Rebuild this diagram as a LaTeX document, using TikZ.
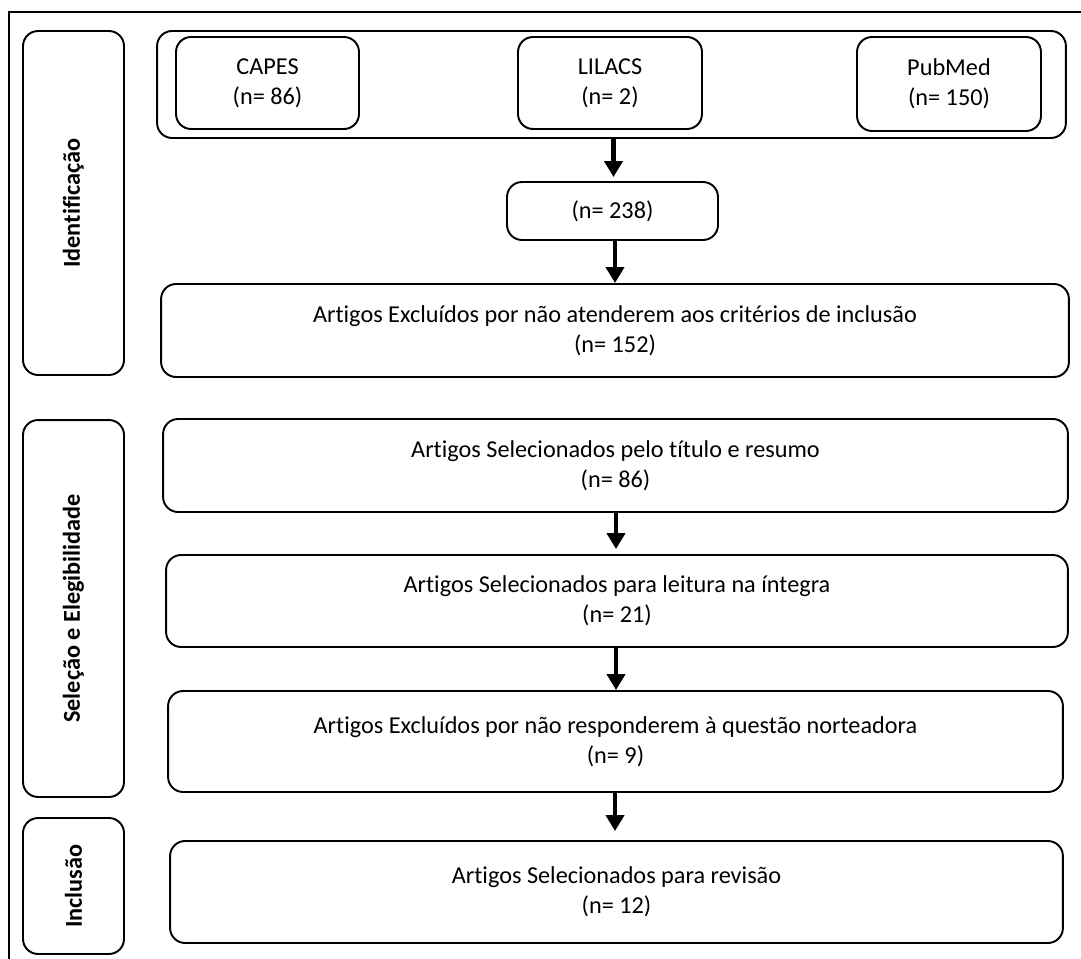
\documentclass[tikz,border=0pt]{standalone}
\usepackage{fontspec}
\setmainfont{Carlito}[Ligatures=NoCommon]
\usetikzlibrary{arrows.meta}

\tikzset{
  flowbox/.style={draw, line width=1.1pt, rounded corners=0.3cm, align=center, inner sep=0pt,
    font=\fontsize{13.8}{17}\selectfont},
  phasebox/.style={draw, line width=1.1pt, rounded corners=0.3cm, inner sep=0pt, rotate=90,
    minimum height=2.02cm, font=\bfseries\fontsize{13.8}{17}\selectfont},
  flowarrow/.style={line width=0.09cm, -{Triangle[width=0.36cm, length=0.32cm]}}
}

\begin{document}
\begin{tikzpicture}[x=0.02cm, y=-0.02cm]
\useasboundingbox (0,0) rectangle (1081,959);

% frame
\draw[line width=0.8pt] (9,962) -- (9,12) -- (1084,12);

% phases
\node[phasebox, minimum width=6.88cm] (ident) at (73.5,203) {Identificação};
\node[phasebox, minimum width=7.54cm] (selec) at (73.5,608.5) {Seleção e Elegibilidade};
\node[phasebox, minimum width=2.72cm] (incl) at (73.5,886) {Inclusão};

% databases
\node[flowbox, minimum width=18.18cm, minimum height=2.14cm] (grp) at (611.5,84.5) {};
\node[flowbox, minimum width=3.66cm, minimum height=1.84cm] (capes) at (267.5,83) {CAPES\\(n= 86)};
\node[flowbox, minimum width=3.68cm, minimum height=1.84cm] (lilacs) at (610,83) {LILACS\\(n= 2)};
\node[flowbox, minimum width=3.68cm, minimum height=1.88cm] (pubmed) at (949,84) {PubMed\\(n= 150)};

\node[flowbox, minimum width=4.22cm, minimum height=1.16cm] (total) at (612.5,211) {(n= 238)};

\node[flowbox, minimum width=18.16cm, minimum height=1.86cm] (excl) at (615,330.5)
  {Artigos Excluídos por não atenderem aos critérios de inclusão\\(n= 152)};
\node[flowbox, minimum width=18.10cm, minimum height=1.86cm] (titulo) at (615.5,465.5)
  {Artigos Selecionados pelo título e resumo\\(n= 86)};
\node[flowbox, minimum width=18.04cm, minimum height=1.84cm] (leitura) at (617,601)
  {Artigos Selecionados para leitura na íntegra\\(n= 21)};
\node[flowbox, minimum width=17.90cm, minimum height=2.02cm] (norte) at (615.5,741.5)
  {Artigos Excluídos por não responderem à questão norteadora\\(n= 9)};
\node[flowbox, minimum width=17.86cm, minimum height=2.04cm] (revisao) at (616.5,892)
  {Artigos Selecionados para revisão\\(n= 12)};

% arrows
\draw[flowarrow, shorten >=0.08cm] (grp.south) ++(2,0) -- (total.north -| 613.5,0);
\draw[flowarrow] (total.south -| 615,0) -- (excl.north -| 615,0);
\draw[flowarrow, shorten >=0.1cm] (titulo.south -| 616,0) -- (leitura.north -| 616,0);
\draw[flowarrow] (leitura.south -| 616,0) -- (norte.north -| 616,0);
\draw[flowarrow, shorten >=0.18cm] (norte.south -| 615,0) -- (revisao.north -| 615,0);
\end{tikzpicture}
\end{document}
